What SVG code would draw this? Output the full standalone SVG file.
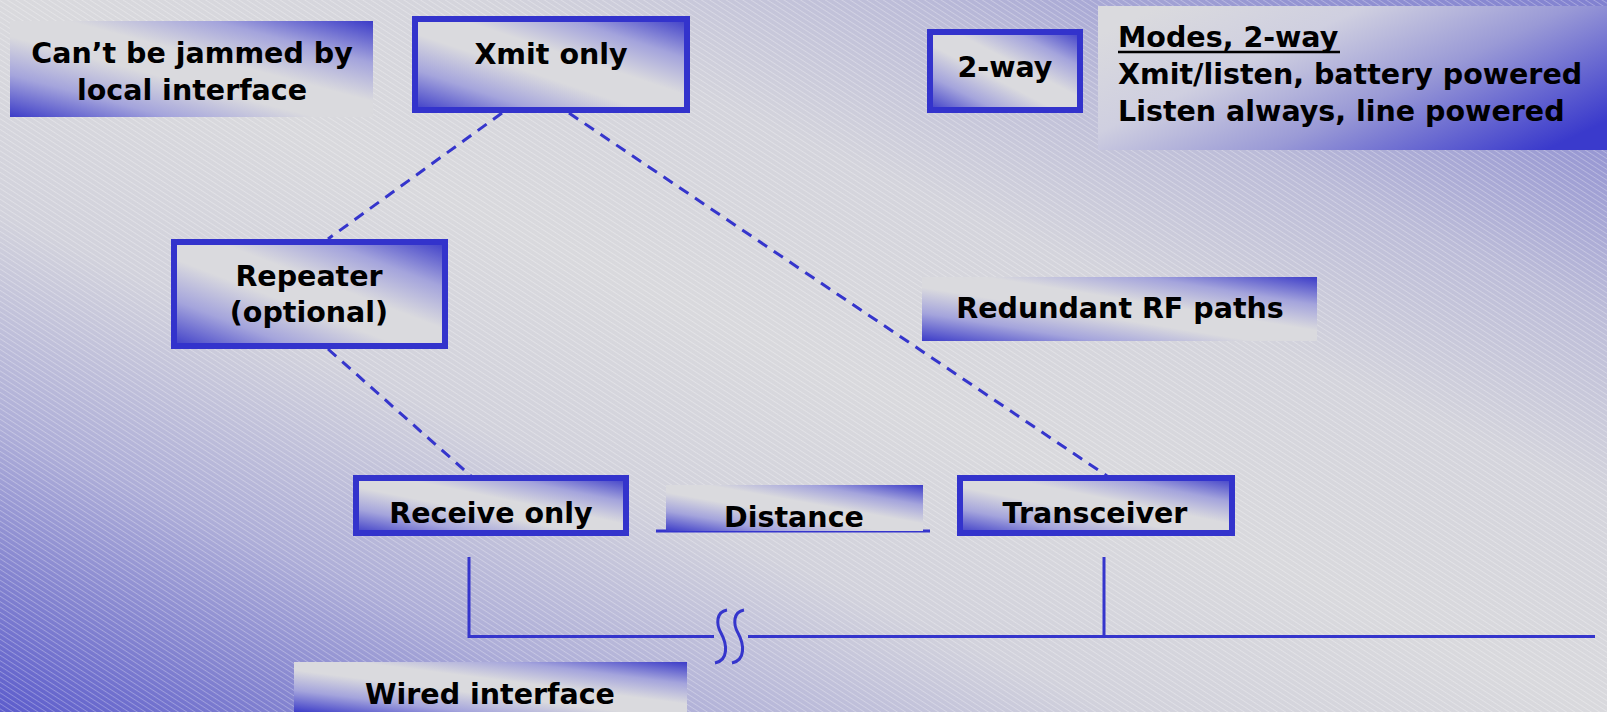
<svg xmlns="http://www.w3.org/2000/svg" width="1607" height="712" viewBox="0 0 1607 712">
  <defs>
    <linearGradient id="bg" x1="0" y1="1" x2="1" y2="0">
      <stop offset="0" stop-color="#5c5ccc"/>
      <stop offset="0.1" stop-color="#8585d0"/>
      <stop offset="0.2" stop-color="#aeaed8"/>
      <stop offset="0.35" stop-color="#d2d2dc"/>
      <stop offset="0.5" stop-color="#d9d9dd"/>
      <stop offset="0.65" stop-color="#d4d4dc"/>
      <stop offset="0.78" stop-color="#bcbcd8"/>
      <stop offset="0.9" stop-color="#9494d2"/>
      <stop offset="1" stop-color="#8080d0"/>
    </linearGradient>
    <linearGradient id="box" x1="0" y1="1" x2="1" y2="0">
      <stop offset="0" stop-color="#3c3cc8"/>
      <stop offset="0.22" stop-color="#a4a4dc"/>
      <stop offset="0.42" stop-color="#dadade"/>
      <stop offset="0.58" stop-color="#dadade"/>
      <stop offset="0.78" stop-color="#a4a4dc"/>
      <stop offset="1" stop-color="#3c3cc8"/>
    </linearGradient>
    <linearGradient id="modes" x1="0" y1="0.2" x2="1" y2="0.8">
      <stop offset="0" stop-color="#dadade"/>
      <stop offset="0.3" stop-color="#cfcfe0"/>
      <stop offset="0.6" stop-color="#9a9ad6"/>
      <stop offset="1" stop-color="#3a3acc"/>
    </linearGradient>
    <pattern id="hatch" patternUnits="userSpaceOnUse" width="20" height="4.5" patternTransform="rotate(33)">
      <line x1="0" y1="0.5" x2="20" y2="0.5" stroke="#ffffff" stroke-opacity="0.35" stroke-width="0.8"/>
    </pattern>
    <style>
      .t { font-family: "DejaVu Sans", "Liberation Sans", sans-serif; font-weight: bold; font-size: 28.5px; fill: #000; }
      .m { text-anchor: middle; }
      .plain { fill: url(#box); stroke: none; }
      .framed { fill: url(#box); stroke: #3333cc; stroke-width: 6; }
      .dash { fill: none; stroke: #3535cc; stroke-width: 3; stroke-dasharray: 11 8; }
      .wire { fill: none; stroke: #3535cc; stroke-width: 3; }
    </style>
  </defs>

  <rect x="0" y="0" width="1607" height="712" fill="url(#bg)"/>
  <rect x="0" y="0" width="1607" height="712" fill="url(#hatch)"/>

  <g id="connectors">
    <line class="dash" x1="502" y1="113" x2="328" y2="239"/>
    <line class="dash" x1="569" y1="113" x2="1107" y2="476"/>
    <line class="dash" x1="328" y1="349" x2="471" y2="476"/>
    <polyline class="wire" points="469,557 469,636.5 714,636.5"/>
    <line class="wire" x1="748" y1="636.5" x2="1595" y2="636.5"/>
    <line class="wire" x1="1104" y1="557" x2="1104" y2="636.5"/>
    <path class="wire" d="M727,610 C716,612 716,624 721,633 C727,644 729,660 715,663"/>
    <path class="wire" d="M744,610 C733,612 733,624 738,633 C744,644 746,660 732,663"/>
    <line class="wire" x1="656" y1="531" x2="930" y2="531"/>
  </g>

  <g id="jam-note">
    <rect class="plain" x="10" y="21" width="363" height="96"/>
    <text class="t m" x="192" y="63">Can&#8217;t be jammed by</text>
    <text class="t m" x="192" y="100">local interface</text>
  </g>

  <g id="xmit-only">
    <rect class="framed" x="415" y="19" width="272" height="91"/>
    <text class="t m" x="551" y="64">Xmit only</text>
  </g>

  <g id="two-way">
    <rect class="framed" x="930" y="32" width="150" height="78"/>
    <text class="t m" x="1005" y="77">2-way</text>
  </g>

  <g id="modes-note">
    <rect x="1098" y="6" width="509" height="144" fill="url(#modes)"/>
    <text class="t" x="1118" y="47">Modes, 2-way</text>
    <line x1="1118" y1="52" x2="1340" y2="52" stroke="#000" stroke-width="2.5"/>
    <text class="t" x="1118" y="84">Xmit/listen, battery powered</text>
    <text class="t" x="1118" y="121">Listen always, line powered</text>
  </g>

  <g id="repeater">
    <rect class="framed" x="174" y="242" width="271" height="104"/>
    <text class="t m" x="309" y="286">Repeater</text>
    <text class="t m" x="309" y="322">(optional)</text>
  </g>

  <g id="redundant-note">
    <rect class="plain" x="922" y="277" width="395" height="64"/>
    <text class="t m" x="1120" y="318">Redundant RF paths</text>
  </g>

  <g id="receive-only">
    <rect class="framed" x="356" y="478" width="270" height="55"/>
    <text class="t m" x="491" y="523">Receive only</text>
  </g>

  <g id="distance">
    <rect class="plain" x="666" y="485" width="257" height="46"/>
    <text class="t m" x="794" y="527">Distance</text>
  </g>

  <g id="transceiver">
    <rect class="framed" x="960" y="478" width="272" height="55"/>
    <text class="t m" x="1095" y="523">Transceiver</text>
  </g>

  <g id="wired-note">
    <rect class="plain" x="294" y="662" width="393" height="50"/>
    <text class="t m" x="490" y="704">Wired interface</text>
  </g>
</svg>
